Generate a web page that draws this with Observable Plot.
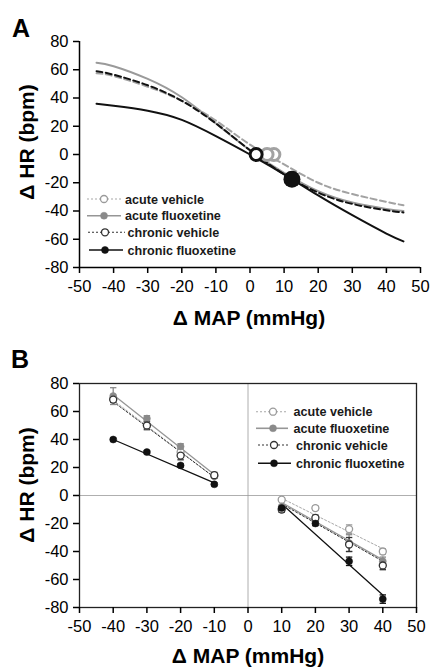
<!DOCTYPE html>
<html><head><meta charset="utf-8">
<script src="https://cdn.jsdelivr.net/npm/d3@7"></script>
<script src="https://cdn.jsdelivr.net/npm/@observablehq/plot@0.6"></script>
<style>
body{margin:0;background:#fff;}
#wrap{width:430px;height:670px;position:relative;overflow:hidden;}
#wrap svg{display:block;}
</style>
</head><body><div id="wrap"></div>
<script>
const FONT = "'Liberation Sans', Arial, Helvetica, sans-serif";
const seriesNames = ["acute vehicle", "acute fluoxetine", "chronic vehicle", "chronic fluoxetine"];
const xTicks = [-50, -40, -30, -20, -10, 0, 10, 20, 30, 40, 50];
const yTicks = [-80, -60, -40, -20, 0, 20, 40, 60, 80];
const xLabel = "Δ MAP (mmHg)";
const yLabel = "Δ HR (bpm)";

// ---- Panel A: fitted baroreflex curves ----
const curveMAP = [-45, -40, -30, -20, -10, 0, 10, 20, 30, 40, 45];
const curveAcuteVehicle = [57.5, 55.5, 48, 38, 24, 7, -7, -20, -28, -33.5, -36];
const curveAcuteFluoxetine = [65, 62.5, 53.5, 40.5, 22, 3, -13, -26, -34, -38.5, -40];
const curveChronicVehicle = [59, 56.5, 49, 38, 22, 3, -14, -27, -35, -39.5, -41];
const curveChronicFluoxetine = [36, 34.5, 31, 24.5, 13, 0, -14, -29, -43, -56, -61.5];
const centerMAP = [7, 5, 1.8, 12.3];
const centerHR = [0, 0, 0, -17.5];

// ---- Panel B: step responses (mean ± SEM) and regression lines ----
const stepMAP = [-40, -30, -20, -10, 10, 20, 30, 40];
const hrAcuteVehicle = [69, 50, 31, 14, -3, -9, -24, -40];
const semAcuteVehicle = [2, 2, 2, 1.5, 1, 1.5, 3, 2];
const hrAcuteFluoxetine = [71, 55, 35, 14, -8, -18, -34, -47];
const semAcuteFluoxetine = [6, 2, 2, 1.5, 1, 2, 6, 3];
const hrChronicVehicle = [68.5, 50, 28.5, 14.5, -10, -16, -35, -50];
const semChronicVehicle = [2, 3, 3, 2, 2, 2, 5, 3];
const hrChronicFluoxetine = [40, 31, 21.5, 8, -9, -20, -47, -74];
const semChronicFluoxetine = [1, 1, 1, 1, 1, 1.5, 3, 3];
const fitMAP = [-40, -10, 10, 40];
const fitAcuteVehicle = [68, 13, -2, -38];
const fitAcuteFluoxetine = [72, 15, -5, -46];
const fitChronicVehicle = [67, 13, -6, -47];
const fitChronicFluoxetine = [40, 9, -6, -71];

// ---- styles ----
const curveStyle = {
  "acute vehicle": {stroke: "#a2a2a2", dash: "6,3.5"},
  "acute fluoxetine": {stroke: "#9a9a9a", dash: null},
  "chronic vehicle": {stroke: "#111", dash: "6,3.5"},
  "chronic fluoxetine": {stroke: "#111", dash: null}
};
const pointStyle = {
  "acute vehicle": {line: "#a8a8a8", dash: "2,2", lw: 1, fill: "white", mstroke: "#9a9a9a"},
  "acute fluoxetine": {line: "#969696", dash: null, lw: 1.3, fill: "#8a8a8a", mstroke: "#8a8a8a"},
  "chronic vehicle": {line: "#333", dash: "2,2", lw: 1, fill: "white", mstroke: "#333"},
  "chronic fluoxetine": {line: "#111", dash: null, lw: 1.3, fill: "#111", mstroke: "#111"}
};

const curveSets = [curveAcuteVehicle, curveAcuteFluoxetine, curveChronicVehicle, curveChronicFluoxetine];
const hrSets = [hrAcuteVehicle, hrAcuteFluoxetine, hrChronicVehicle, hrChronicFluoxetine];
const semSets = [semAcuteVehicle, semAcuteFluoxetine, semChronicVehicle, semChronicFluoxetine];
const fitSets = [fitAcuteVehicle, fitAcuteFluoxetine, fitChronicVehicle, fitChronicFluoxetine];

const capSymbol = {
  draw(ctx, size) {
    const w = Math.sqrt(size / Math.PI);
    ctx.moveTo(-w, 0); ctx.lineTo(w, 0);
  }
};

const fmt = d => String(d);

function commonAxes() {
  return [
    Plot.axisX({ticks: xTicks, tickSize: 6, tickPadding: 7, tickFormat: fmt, fontSize: 16.5, label: null, strokeWidth: 1.5}),
    Plot.axisY({ticks: yTicks, tickSize: 6, tickPadding: 5, tickFormat: fmt, fontSize: 16.5, label: null, strokeWidth: 1.5})
  ];
}

// ---------- Panel A ----------
const marksA = [];
seriesNames.forEach((name, i) => {
  const rows = curveMAP.map((x, j) => ({x, y: curveSets[i][j]}));
  const s = curveStyle[name];
  marksA.push(Plot.line(rows, {x: "x", y: "y", stroke: s.stroke, strokeWidth: 2, strokeDasharray: s.dash, curve: "natural"}));
});
const centerColor = ["#a2a2a2", "#a2a2a2", "#111", "#111"];
[0, 1, 2, 3].forEach(i => {
  const d = [{x: centerMAP[i], y: centerHR[i]}];
  if (i === 3) marksA.push(Plot.dot(d, {x: "x", y: "y", r: 8.5, fill: "#111", stroke: "none"}));
  else marksA.push(Plot.dot(d, {x: "x", y: "y", r: 6, fill: "white", stroke: centerColor[i], strokeWidth: 3}));
});

const plotA = Plot.plot({
  width: 430, height: 330,
  marginLeft: 79, marginRight: 10, marginTop: 41, marginBottom: 63,
  x: {domain: [-50, 50]},
  y: {domain: [-80, 80]},
  style: {fontFamily: FONT, fontSize: "16px", color: "#000", background: "white", overflow: "visible"},
  marks: [
    Plot.ruleX([-50], {strokeWidth: 1.5}),
    Plot.ruleY([-80], {strokeWidth: 1.5}),
    ...commonAxes(),
    ...marksA
  ]
});

// ---------- Panel B ----------
const marksB = [
  Plot.ruleY([0], {stroke: "#9a9a9a", strokeWidth: 0.8}),
  Plot.ruleX([0], {stroke: "#9a9a9a", strokeWidth: 0.8})
];
seriesNames.forEach((name, i) => {
  const s = pointStyle[name];
  const fitRows = fitMAP.map((x, j) => ({x, y: fitSets[i][j], side: x < 0 ? "L" : "R"}));
  marksB.push(Plot.line(fitRows, {x: "x", y: "y", z: "side", stroke: s.line, strokeWidth: s.lw, strokeDasharray: s.dash}));
});
seriesNames.forEach((name, i) => {
  const s = pointStyle[name];
  const rows = stepMAP.map((x, j) => ({x, y: hrSets[i][j], lo: hrSets[i][j] - semSets[i][j], hi: hrSets[i][j] + semSets[i][j]}));
  marksB.push(Plot.ruleX(rows, {x: "x", y1: "lo", y2: "hi", stroke: s.mstroke, strokeWidth: 1.3}));
  marksB.push(Plot.dot(rows, {x: "x", y: "lo", symbol: capSymbol, r: 3.2, stroke: s.mstroke, strokeWidth: 1.3, fill: "none"}));
  marksB.push(Plot.dot(rows, {x: "x", y: "hi", symbol: capSymbol, r: 3.2, stroke: s.mstroke, strokeWidth: 1.3, fill: "none"}));
});
seriesNames.forEach((name, i) => {
  const s = pointStyle[name];
  const rows = stepMAP.map((x, j) => ({x, y: hrSets[i][j]}));
  const filled = s.fill !== "white";
  marksB.push(Plot.dot(rows, {x: "x", y: "y", r: filled ? 3.5 : 3.5, fill: s.fill, stroke: s.mstroke, strokeWidth: filled ? 0.5 : 1.3}));
});

const plotB = Plot.plot({
  width: 430, height: 340,
  marginLeft: 79, marginRight: 14, marginTop: 53, marginBottom: 63,
  x: {domain: [-50, 50]},
  y: {domain: [-80, 80]},
  style: {fontFamily: FONT, fontSize: "16px", color: "#000", background: "white", overflow: "visible"},
  marks: [
    ...marksB,
    Plot.frame({stroke: "#222", strokeWidth: 1.3}),
    ...commonAxes()
  ]
});

// ---------- text & legends ----------
function addText(svg, txt, x, y, size, opts = {}) {
  const t = d3.select(svg).append("text")
    .attr("x", x).attr("y", y)
    .attr("font-family", FONT).attr("font-size", size)
    .attr("font-weight", "bold").attr("fill", "#000")
    .attr("text-anchor", opts.anchor || "start")
    .text(txt);
  if (opts.rotate) t.attr("transform", `rotate(${opts.rotate},${x},${y})`).attr("dominant-baseline", "central");
  return t;
}

function addLegend(svg, rowsY, lineX1, lineX2, markX, textX, textXChronic) {
  const g = d3.select(svg).append("g").attr("text-anchor", "start");
  seriesNames.forEach((name, i) => {
    const s = pointStyle[name];
    const y = rowsY[i];
    g.append("line").attr("x1", lineX1[i]).attr("x2", lineX2[i]).attr("y1", y).attr("y2", y)
      .attr("stroke", s.line).attr("stroke-width", s.dash ? 1.1 : 1.6)
      .attr("stroke-dasharray", s.dash || null);
    const filled = s.fill !== "white";
    g.append("circle").attr("cx", markX[i]).attr("cy", y).attr("r", 3.5)
      .attr("fill", s.fill).attr("stroke", s.mstroke).attr("stroke-width", filled ? 0.5 : 1.3);
    g.append("text").attr("x", i < 2 ? textX : textXChronic).attr("y", y)
      .attr("dy", "0.36em").attr("text-anchor", "start")
      .attr("font-family", FONT).attr("font-size", 12.6)
      .attr("font-weight", "bold").attr("fill", "#1a1a1a").text(name);
  });
}

// Panel A texts
addText(plotA, "A", 12, 37, 25);
addText(plotA, yLabel, 26, 142, 21, {anchor: "middle", rotate: -90});
addText(plotA, xLabel, 249, 325, 21, {anchor: "middle"});
addLegend(plotA, [199, 215.7, 232.3, 250], [87, 87, 88, 89], [121, 121, 125, 123], [104, 104, 105, 105], 125, 127.5);

// Panel B texts
addText(plotB, "B", 11, 38, 25);
addText(plotB, yLabel, 26, 155, 21, {anchor: "middle", rotate: -90});
addText(plotB, xLabel, 248, 333, 21, {anchor: "middle"});
addLegend(plotB, [81.7, 98.3, 115, 133.3], [256, 256, 258, 258], [288, 288, 290, 291], [273, 273, 274, 274], 293.5, 296);

const wrap = document.getElementById("wrap");
wrap.appendChild(plotA);
wrap.appendChild(plotB);
</script>
</body></html>
